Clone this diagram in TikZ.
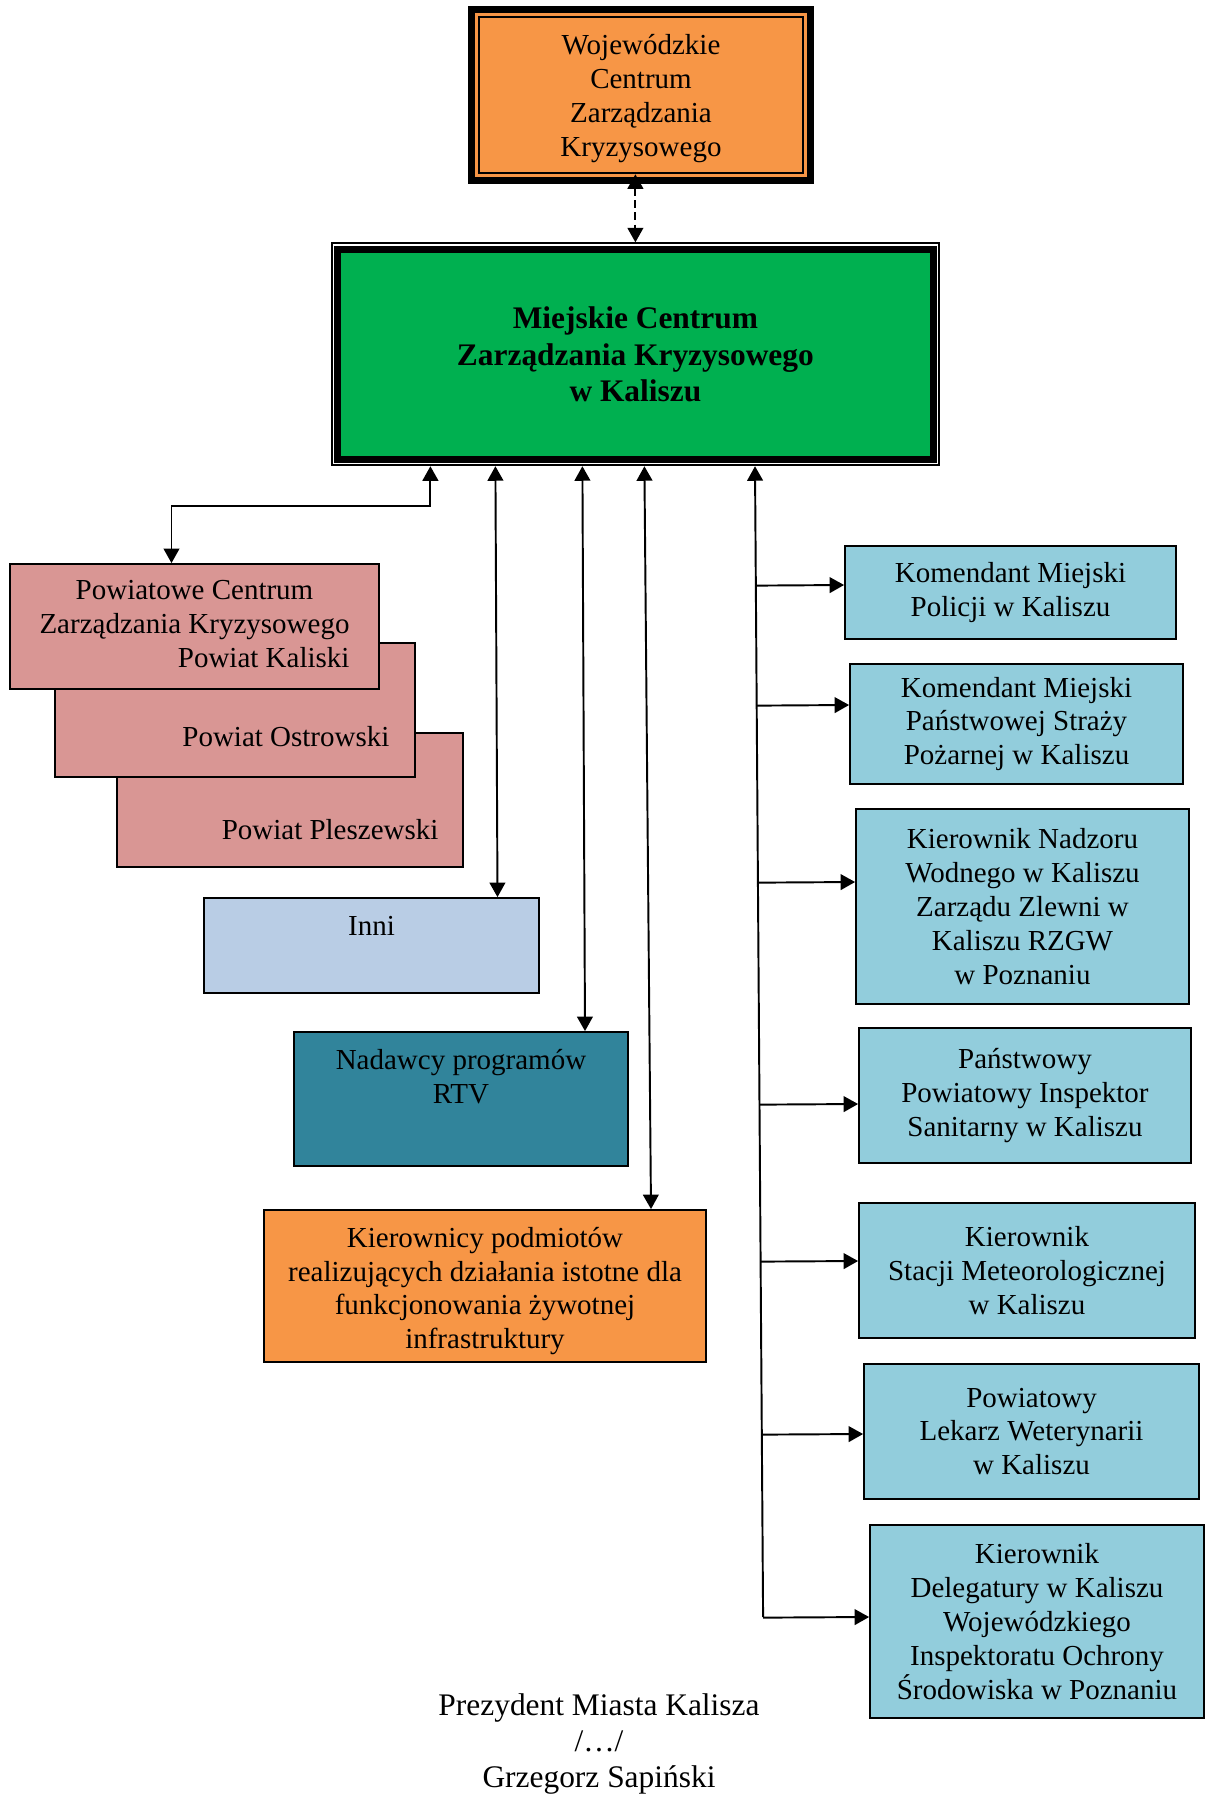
\documentclass[tikz,border=0pt]{standalone}
\usepackage{fontspec}
\setmainfont{Liberation Serif}
\usetikzlibrary{arrows.meta,positioning,fit,calc}

\definecolor{orangeF}{HTML}{F79646}
\definecolor{greenF}{HTML}{00B050}
\definecolor{pinkF}{HTML}{D99694}
\definecolor{inniF}{HTML}{B9CDE5}
\definecolor{tealF}{HTML}{31849B}
\definecolor{aquaF}{HTML}{92CDDC}

\pgfmathsetmacro {\px}{0.4138}  %one pixel of the scan in pt

\begin{document}
\begin{tikzpicture}[x=\px pt, y=-\px pt,
    >={Triangle[length=6pt,width=6.5pt]},
    box/.style={draw, line width=0.75pt, align=center, inner sep=0pt,
                font=\fontsize{12}{14}\selectfont},
    sz/.style 2 args={minimum width=#1*\px pt, minimum height=#2*\px pt},
    txt/.style={inner sep=0pt, align=center, font=\fontsize{12}{14}\selectfont},
    arr/.style={line width=0.8pt}]
    \useasboundingbox (0,0) rectangle (1205,1794);

    % Top box (thick-thin frame)
    \node[draw, line width=2.9pt, fill=orangeF, sz={339}{171}] (woj) at (641,95) {};
    \node[box, line width=0.83pt, sz={324.6}{156.6}] (wojin) at (woj.center) {};
    \node[txt] (wojT) at ($(wojin.center)+(0,3.5)$)
        {Wojewódzkie\\Centrum\\Zarządzania\\Kryzysowego};

    % Main box (thin-thick frame)
    \node[draw, line width=2.9pt, fill=greenF, sz={595.3}{209.9}, align=center,
          font=\fontsize{13}{15}\selectfont\bfseries] (main) at (635.4,354.3)
        {Miejskie Centrum\\Zarządzania Kryzysowego\\w Kaliszu};
    \node[draw, line width=0.83pt, inner sep=1.03pt, fit=(main)] (mainf) {};

    \draw[arr, <->, dash pattern=on 3.3pt off 1.7pt] (mainf.north |- wojin.south) -- (mainf.north);

    % Left column: stacked county boxes
    \node[box, fill=pinkF, sz={346}{134}] (plesz) at (290,800) {};
    \node[box, fill=pinkF, sz={360}{134}] (ostr) at (235,710) {};
    \node[box, fill=pinkF, sz={369}{125}] (kal) at (194.5,626.5)
        {\begin{tabular}{@{}c@{}}Powiatowe Centrum\\Zarządzania Kryzysowego\\
         \multicolumn{1}{@{}r@{}}{Powiat Kaliski}\end{tabular}};
    \node[txt, anchor=east] (ostrT) at ($(ostr.east)+(-26,27)$) {Powiat Ostrowski};
    \node[txt, anchor=east] (pleszT) at ($(plesz.east)+(-25,30)$) {Powiat Pleszewski};

    % Middle column
    \node[box, fill=inniF, sz={335}{95}] (inni) at (371.5,945.5) {};
    \node[txt] (inniT) at ($(inni.center)+(0,-20)$) {Inni};
    \node[box, fill=tealF, sz={334}{134}] (nad) at (461,1099) {};
    \node[txt] (nadT) at ($(nad.center)+(0,-22)$) {Nadawcy programów\\RTV};
    \node[box, fill=orangeF, sz={442}{152}] (kier) at (485,1286) {};
    \node[txt] (kierT) at ($(kier.center)+(0,5)$)
        {Kierownicy podmiotów\\realizujących działania istotne dla\\funkcjonowania żywotnej\\infrastruktury};

    % Right column
    \node[box, fill=aquaF, sz={331}{93}] (pol) at (1010.5,592.5)
        {Komendant Miejski\\Policji w Kaliszu};
    \node[box, fill=aquaF, sz={333}{120}] (psp) at (1016.5,724)
        {Komendant Miejski\\Państwowej Straży\\Pożarnej w Kaliszu};
    \node[box, fill=aquaF, sz={333}{195}] (nadz) at (1022.5,906.5)
        {Kierownik Nadzoru\\Wodnego w Kaliszu\\Zarządu Zlewni w\\Kaliszu RZGW\\w Poznaniu};
    \node[box, fill=aquaF, sz={332}{135}] (pis) at (1025,1095.5)
        {Państwowy\\Powiatowy Inspektor\\Sanitarny w Kaliszu};
    \node[box, fill=aquaF, sz={336}{135}] (met) at (1027,1270.5)
        {Kierownik\\Stacji Meteorologicznej\\w Kaliszu};
    \node[box, fill=aquaF, sz={335}{135}] (wet) at (1031.5,1431.5)
        {Powiatowy\\Lekarz Weterynarii\\w Kaliszu};
    \node[box, fill=aquaF, sz={334}{193}] (del) at (1037,1621.5)
        {Kierownik\\Delegatury w Kaliszu\\Wojewódzkiego\\Inspektoratu Ochrony\\Środowiska w Poznaniu};

    % Links to the left and middle
    \draw[arr, <->] ($(mainf.south)+(-205,0)$) -- ++(0,40) -| ($(kal.north)+(-23,0)$);
    \draw[arr, <->] ($(mainf.south)+(-140,0)$) -- ($(inni.north)+(126,0)$);
    \draw[arr, <->] ($(mainf.south)+(-53,0)$) -- ($(nad.north)+(124,0)$);
    \draw[arr, <->] ($(mainf.south)+(9,0)$) -- ($(kier.north)+(166,0)$);

    % Trunk and branches to the right
    \coordinate (ttop) at ($(mainf.south)+(119.6,0)$);
    \coordinate (tbot) at ($(del.west)+(-106,-4.5)$);
    \draw[arr, ->] (tbot) -- (ttop);
    \foreach \b/\dy in {pol/-7.5, psp/-19, nadz/-24.5, pis/8.5, met/-9.5, wet/2.5, del/-4.5} {
        \coordinate (\b-in) at ($(\b.west)+(0,\dy)$);         %branch end
        \draw[arr, ->] ($(ttop)!(\b-in)!(tbot)$) -- (\b-in);   %branch
    }

    % Signature
    \node[txt, font=\fontsize{13}{15}\selectfont] (sig) at (599,1744)
        {Prezydent Miasta Kalisza\\/…/\\Grzegorz Sapiński};
\end{tikzpicture}
\end{document}
